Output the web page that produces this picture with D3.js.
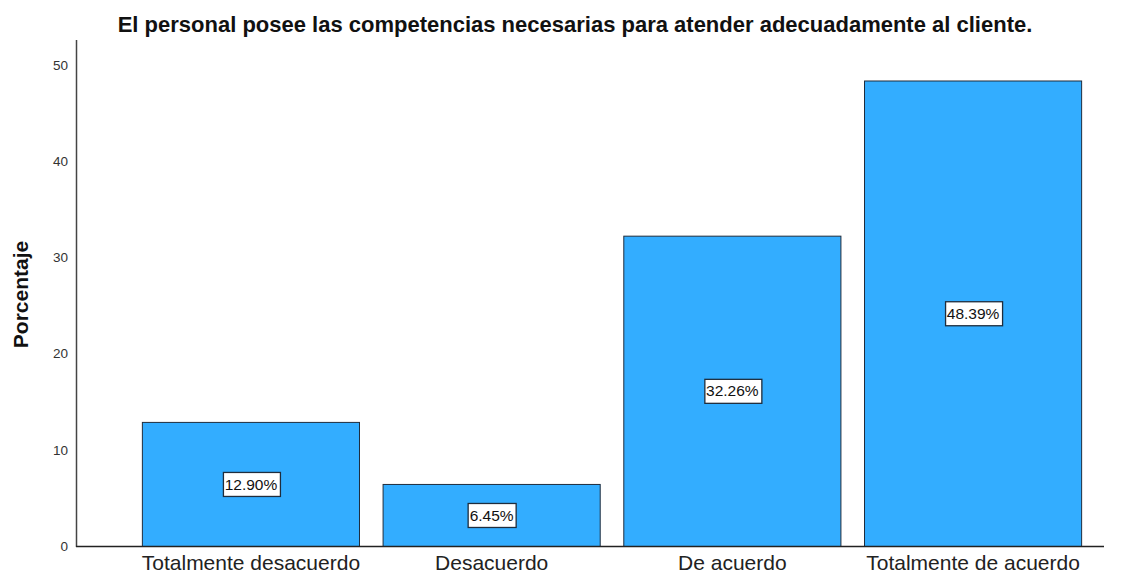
<!DOCTYPE html>
<html>
<head>
<meta charset="utf-8">
<script src="https://cdn.jsdelivr.net/npm/d3@7"></script>
<style>
  html, body { margin: 0; padding: 0; background: #fff; }
  svg { display: block; font-family: "Liberation Sans", Arial, sans-serif; }
</style>
</head>
<body>
<svg id="chart" width="1134" height="575"></svg>
<script>
// Response categories and their percentages
const categories = ["Totalmente desacuerdo", "Desacuerdo", "De acuerdo", "Totalmente de acuerdo"];
const percentages = [12.90, 6.45, 32.26, 48.39];
const yTicks = [0, 10, 20, 30, 40, 50];
const title = "El personal posee las competencias necesarias para atender adecuadamente al cliente.";
const yLabel = "Porcentaje";

const svg = d3.select("#chart");
const axisLeftX = 76;

const x = d3.scaleBand()
  .domain(categories)
  .range([119, 1104])
  .paddingInner(0.098)
  .paddingOuter(0.095);

const y = d3.scaleLinear()
  .domain([0, 52.6])
  .range([546, 40]);

// Bars
svg.append("g").selectAll("rect")
  .data(percentages)
  .join("rect")
  .attr("x", (d, i) => x(categories[i]) + 0.5)
  .attr("y", d => y(d) + 0.5)
  .attr("width", x.bandwidth())
  .attr("height", d => y(0) - y(d))
  .attr("fill", "#33adff")
  .attr("stroke", "#1f2d3d")
  .attr("stroke-width", 1);

// Axis lines
svg.append("line")
  .attr("x1", axisLeftX + 0.5).attr("x2", axisLeftX + 0.5)
  .attr("y1", 40).attr("y2", y(0) + 1)
  .attr("stroke", "#444").attr("stroke-width", 1.5);
svg.append("line")
  .attr("x1", axisLeftX).attr("x2", 1104)
  .attr("y1", y(0) + 0.5).attr("y2", y(0) + 0.5)
  .attr("stroke", "#222").attr("stroke-width", 1.3);

// Y tick labels
const yAxis = d3.axisLeft(y).tickValues(yTicks).tickSize(0).tickPadding(8);
const gy = svg.append("g").attr("transform", `translate(${axisLeftX},0)`).call(yAxis);
gy.select(".domain").remove();
gy.selectAll("text")
  .attr("font-size", 13.5)
  .attr("fill", "#333")
  .attr("font-family", "Liberation Sans, Arial, sans-serif");

// X tick labels
const xAxis = d3.axisBottom(x).tickSize(0).tickPadding(9);
const gx = svg.append("g").attr("transform", `translate(0.5,${y(0)})`).call(xAxis);
gx.select(".domain").remove();
gx.selectAll("text")
  .attr("font-size", 21)
  .attr("fill", "#222")
  .attr("font-family", "Liberation Sans, Arial, sans-serif");

// Value labels in boxes at the middle of each bar
const labels = svg.append("g").selectAll("g")
  .data(percentages)
  .join("g")
  .attr("transform", (d, i) => `translate(${x(categories[i]) + x.bandwidth() / 2 + 0.5},${y(d / 2)})`);

labels.append("text")
  .attr("text-anchor", "middle")
  .attr("dy", "0.36em")
  .attr("font-size", 15.5)
  .attr("fill", "#111")
  .text(d => d.toFixed(2) + "%");

labels.each(function() {
  const g = d3.select(this);
  const bb = g.select("text").node().getBBox();
  const w = Math.round(bb.width + 4), h = 24;
  g.insert("rect", "text")
    .attr("x", Math.round(-w / 2) + 0.5)
    .attr("y", -h / 2 + 0.5)
    .attr("width", w)
    .attr("height", h)
    .attr("fill", "#fff")
    .attr("stroke", "#1f2d3d")
    .attr("stroke-width", 1.3);
});

// Title
svg.append("text")
  .attr("x", 575).attr("y", 32)
  .attr("text-anchor", "middle")
  .attr("font-size", 22)
  .attr("font-weight", "bold")
  .attr("fill", "#111")
  .text(title);

// Y axis title
svg.append("text")
  .attr("transform", "translate(28,294.5) rotate(-90)")
  .attr("text-anchor", "middle")
  .attr("font-size", 21)
  .attr("font-weight", "bold")
  .attr("fill", "#111")
  .text(yLabel);
</script>
</body>
</html>
